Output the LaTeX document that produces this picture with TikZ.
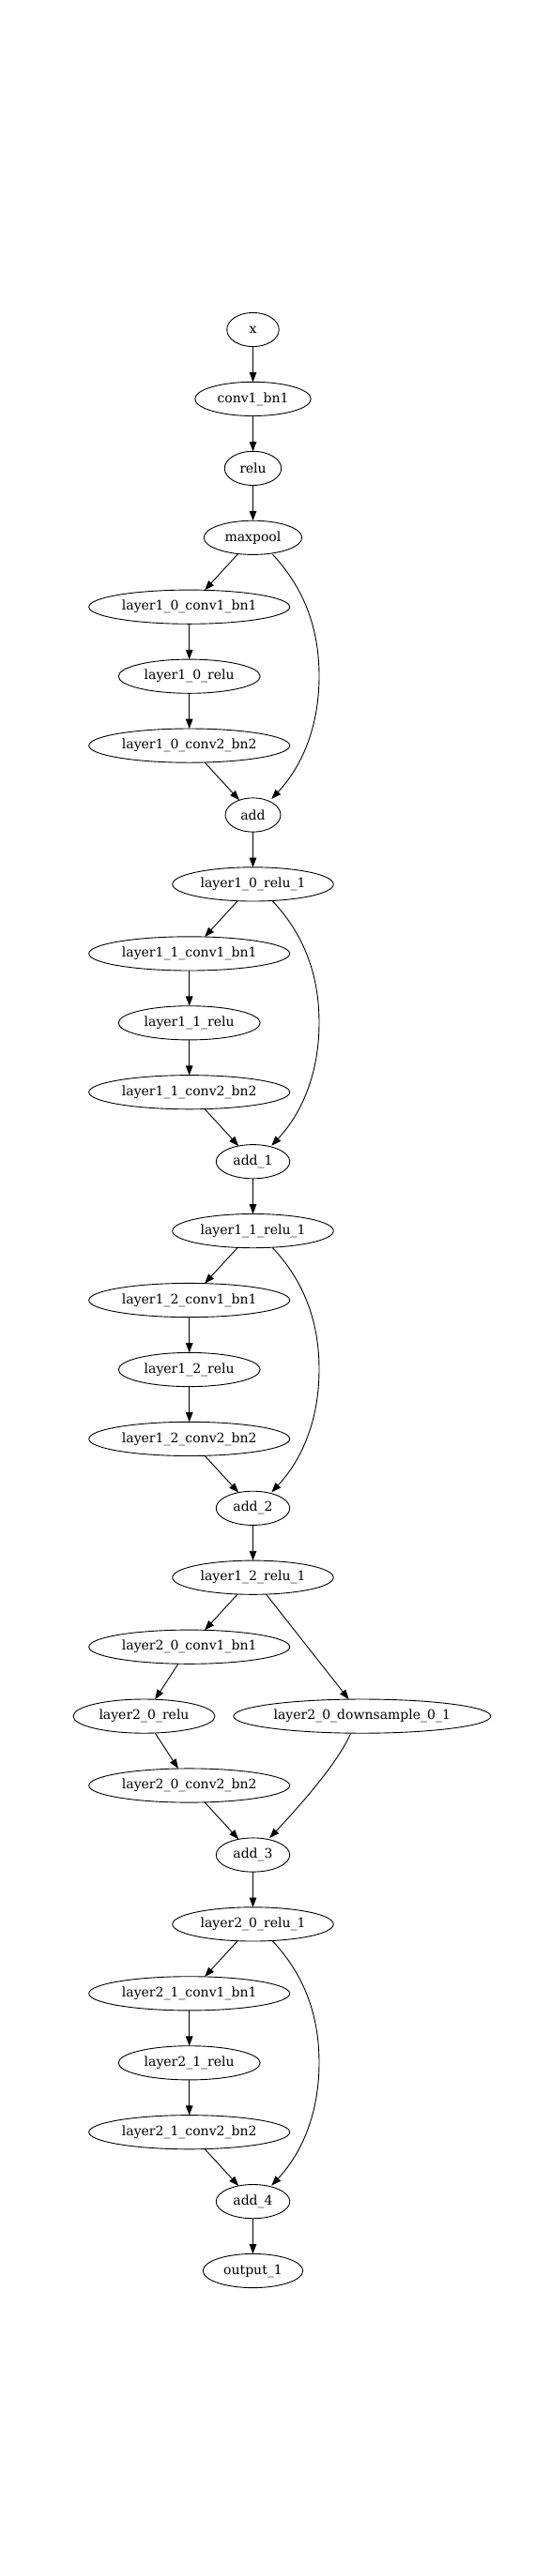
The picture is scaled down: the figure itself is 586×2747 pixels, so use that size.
\documentclass[tikz,border=0pt]{standalone}
\usepackage{fontspec}
\setmainfont{DejaVu Serif}
\usetikzlibrary{shapes.geometric,arrows.meta,calc}
\tikzset{
  nd/.style={draw=black, line width=0.9pt, ellipse, inner sep=0pt, outer sep=0pt,
    minimum height=36.2pt, font=\fontsize{14}{16}\selectfont},
  edge/.style={-{Triangle[length=10.3pt,width=7.6pt]}, line width=0.9pt, black},
}
\newcommand\lbl[1]{\makebox[0pt][c]{#1}}
\newcommand\resskip[2]{%
  \draw[edge] ($(#1.center)+(21,18)$) .. controls +(27,29) and +(0,-60) ..
    ($(#1.center)+(70.5,147.5)$) .. controls +(0,60) and +(28.7,-30.7) ..
    ($(#2.center)+(19.8,-17)$);}
\begin{document}
\begin{tikzpicture}[x=1pt,y=-1pt]
\fill[white] (0,0) rectangle (586,2747);
\useasboundingbox (0,0) rectangle (586,2747);
\def\M{269.5}
\def\L{201.7}
% main chain
\node[nd, minimum width=55.5pt] (x) at (\M,351.5) {\lbl{x}};
\node[nd, minimum width=123.5pt] (conv1) at (\M,425.4) {\lbl{conv1\_bn1}};
\node[nd, minimum width=60.5pt] (relu) at (\M,499.4) {\lbl{relu}};
\node[nd, minimum width=104.5pt] (maxpool) at (\M,573.3) {\lbl{maxpool}};
% layer1_0
\node[nd, minimum width=214pt] (l10c1) at (\L,647.2) {\lbl{layer1\_0\_conv1\_bn1}};
\node[nd, minimum width=151pt] (l10r) at (\L,721.2) {\lbl{layer1\_0\_relu}};
\node[nd, minimum width=214pt] (l10c2) at (\L,795.1) {\lbl{layer1\_0\_conv2\_bn2}};
\node[nd, minimum width=59pt] (add) at (\M,869.0) {\lbl{add}};
\node[nd, minimum width=171.5pt] (l10r1) at (\M,942.9) {\lbl{layer1\_0\_relu\_1}};
% layer1_1
\node[nd, minimum width=214pt] (l11c1) at (\L,1016.9) {\lbl{layer1\_1\_conv1\_bn1}};
\node[nd, minimum width=151pt] (l11r) at (\L,1090.8) {\lbl{layer1\_1\_relu}};
\node[nd, minimum width=214pt] (l11c2) at (\L,1164.7) {\lbl{layer1\_1\_conv2\_bn2}};
\node[nd, minimum width=78.5pt] (add1) at (\M,1238.7) {\lbl{add\_1}};
\node[nd, minimum width=171.5pt] (l11r1) at (\M,1312.6) {\lbl{layer1\_1\_relu\_1}};
% layer1_2
\node[nd, minimum width=214pt] (l12c1) at (\L,1386.5) {\lbl{layer1\_2\_conv1\_bn1}};
\node[nd, minimum width=151pt] (l12r) at (\L,1460.5) {\lbl{layer1\_2\_relu}};
\node[nd, minimum width=214pt] (l12c2) at (\L,1534.4) {\lbl{layer1\_2\_conv2\_bn2}};
\node[nd, minimum width=78.5pt] (add2) at (\M,1608.3) {\lbl{add\_2}};
\node[nd, minimum width=171.5pt] (l12r1) at (\M,1682.2) {\lbl{layer1\_2\_relu\_1}};
% layer2_0
\node[nd, minimum width=214pt] (l20c1) at (\L,1756.2) {\lbl{layer2\_0\_conv1\_bn1}};
\node[nd, minimum width=151pt] (l20r) at (153.5,1830.1) {\lbl{layer2\_0\_relu}};
\node[nd, minimum width=274pt] (ds) at (385.8,1830.1) {\lbl{layer2\_0\_downsample\_0\_1}};
\node[nd, minimum width=214pt] (l20c2) at (\L,1904.0) {\lbl{layer2\_0\_conv2\_bn2}};
\node[nd, minimum width=78.5pt] (add3) at (\M,1978.0) {\lbl{add\_3}};
\node[nd, minimum width=171.5pt] (l20r1) at (\M,2051.9) {\lbl{layer2\_0\_relu\_1}};
% layer2_1
\node[nd, minimum width=214pt] (l21c1) at (\L,2125.8) {\lbl{layer2\_1\_conv1\_bn1}};
\node[nd, minimum width=151pt] (l21r) at (\L,2199.8) {\lbl{layer2\_1\_relu}};
\node[nd, minimum width=214pt] (l21c2) at (\L,2273.7) {\lbl{layer2\_1\_conv2\_bn2}};
\node[nd, minimum width=78.5pt] (add4) at (\M,2347.6) {\lbl{add\_4}};
\node[nd, minimum width=106.5pt] (out) at (\M,2421.5) {\lbl{output\_1}};
% edges
\draw[edge] (x) -- (conv1);
\draw[edge] (conv1) -- (relu);
\draw[edge] (relu) -- (maxpool);
\draw[edge] (maxpool) -- (l10c1);
\draw[edge] (l10c1) -- (l10r);
\draw[edge] (l10r) -- (l10c2);
\draw[edge] (l10c2) -- (add);
\resskip{maxpool}{add}
\draw[edge] (add) -- (l10r1);
\draw[edge] (l10r1) -- (l11c1);
\draw[edge] (l11c1) -- (l11r);
\draw[edge] (l11r) -- (l11c2);
\draw[edge] (l11c2) -- (add1);
\resskip{l10r1}{add1}
\draw[edge] (add1) -- (l11r1);
\draw[edge] (l11r1) -- (l12c1);
\draw[edge] (l12c1) -- (l12r);
\draw[edge] (l12r) -- (l12c2);
\draw[edge] (l12c2) -- (add2);
\resskip{l11r1}{add2}
\draw[edge] (add2) -- (l12r1);
\draw[edge] (l12r1) -- (l20c1);
\draw[edge] (l12r1) -- (ds);
\draw[edge] (l20c1) -- (l20r);
\draw[edge] (l20r) -- (l20c2);
\draw[edge] (l20c2) -- (add3);
\draw[edge] ($(ds.center)+(-12.5,19)$) .. controls +(-13.3,30.7) and +(32.7,-35) .. ($(add3.center)+(17.8,-18)$);
\draw[edge] (add3) -- (l20r1);
\draw[edge] (l20r1) -- (l21c1);
\draw[edge] (l21c1) -- (l21r);
\draw[edge] (l21r) -- (l21c2);
\draw[edge] (l21c2) -- (add4);
\resskip{l20r1}{add4}
\draw[edge] (add4) -- (out);
\end{tikzpicture}
\end{document}
